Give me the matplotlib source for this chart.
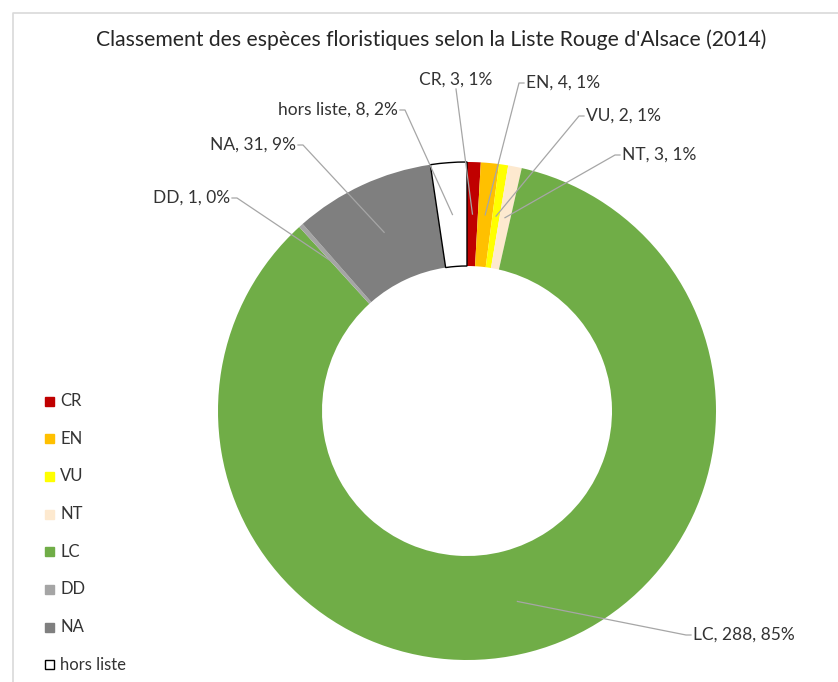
import numpy as np
import matplotlib.pyplot as plt
from matplotlib.patches import Rectangle

# donnees Liste Rouge d'Alsace (2014)
categories = ['CR', 'EN', 'VU', 'NT', 'LC', 'DD', 'NA', 'hors liste']
counts = [3, 4, 2, 3, 288, 1, 31, 8]
colors = ['#c00000', '#ffc000', '#ffff00', '#fde9cf', '#70ad47', '#a5a5a5', '#7f7f7f', '#ffffff']

# position des etiquettes (pixels, haut-gauche), cote de la ligne
label_pos = {
    'CR': (456, 80, 'center'),
    'EN': (526, 83, 'left'),
    'VU': (586, 116, 'left'),
    'NT': (622, 155, 'left'),
    'LC': (693, 635, 'left'),
    'DD': (230, 198, 'right'),
    'NA': (296, 145, 'right'),
    'hors liste': (398, 110, 'right'),
}

W, H = 838, 682
TXT = '#333333'
LINE = '#a6a6a6'
FS = 12.5
plt.rcParams['font.family'] = ['Lato', 'DejaVu Sans']

fig = plt.figure(figsize=(W / 100, H / 100), dpi=100)
ax = fig.add_axes([0, 0, 1, 1])

def py(y):
    return H - y

cx, cy = 467, py(411)
R_out, R_in = 249, 145

wedges, _ = ax.pie(counts, colors=colors, center=(cx, cy), radius=R_out,
                   startangle=90, counterclock=False, frame=True,
                   wedgeprops=dict(width=R_out - R_in, linewidth=0))
# bordure noire pour "hors liste"
wedges[-1].set_edgecolor('black')
wedges[-1].set_linewidth(1.0)

total = sum(counts)
r_mid = (R_out + R_in) / 2
for w, cat, n in zip(wedges, categories, counts):
    th = np.deg2rad((w.theta1 + w.theta2) / 2)
    ax_, ay_ = cx + r_mid * np.cos(th), cy + r_mid * np.sin(th)
    tx, ty, side = label_pos[cat]
    pct = round(100 * n / total)
    txt = '%s, %d, %d%%' % (cat, n, pct)
    if side == 'center':
        ax.plot([ax_, tx], [ay_, py(ty) - 9], color=LINE, lw=0.9, zorder=3)
        ax.text(tx, py(ty), txt, ha='center', va='center', fontsize=FS, color=TXT)
    elif side == 'left':
        ax.plot([ax_, tx - 7, tx - 2], [ay_, py(ty), py(ty)], color=LINE, lw=0.9, zorder=3)
        ax.text(tx, py(ty), txt, ha='left', va='center', fontsize=FS, color=TXT)
    else:
        ax.plot([ax_, tx + 7, tx + 2], [ay_, py(ty), py(ty)], color=LINE, lw=0.9, zorder=3)
        ax.text(tx, py(ty), txt, ha='right', va='center', fontsize=FS, color=TXT)

# legende
leg_y0, leg_dy = 401, 37.7
for i, (cat, c) in enumerate(zip(categories, colors)):
    y = py(leg_y0 + i * leg_dy)
    ec = 'black' if cat == 'hors liste' else c
    ax.add_patch(Rectangle((45, y - 4.5), 9, 9, facecolor=c, edgecolor=ec, lw=1.0))
    ax.text(60, y, cat, ha='left', va='center', fontsize=12, color=TXT)

ax.text(431, py(40), "Classement des espèces floristiques selon la Liste Rouge d'Alsace (2014)",
        ha='center', va='center', fontsize=15.2, color='#262626')

# cadre du graphique
ax.plot([13, 13, W + 5], [-5, py(13), py(13)], color='#d9d9d9', lw=1.2)

ax.set_xlim(0, W)
ax.set_ylim(0, H)
ax.set_aspect('auto')
ax.axis('off')
fig.savefig('out.png', dpi=100)
